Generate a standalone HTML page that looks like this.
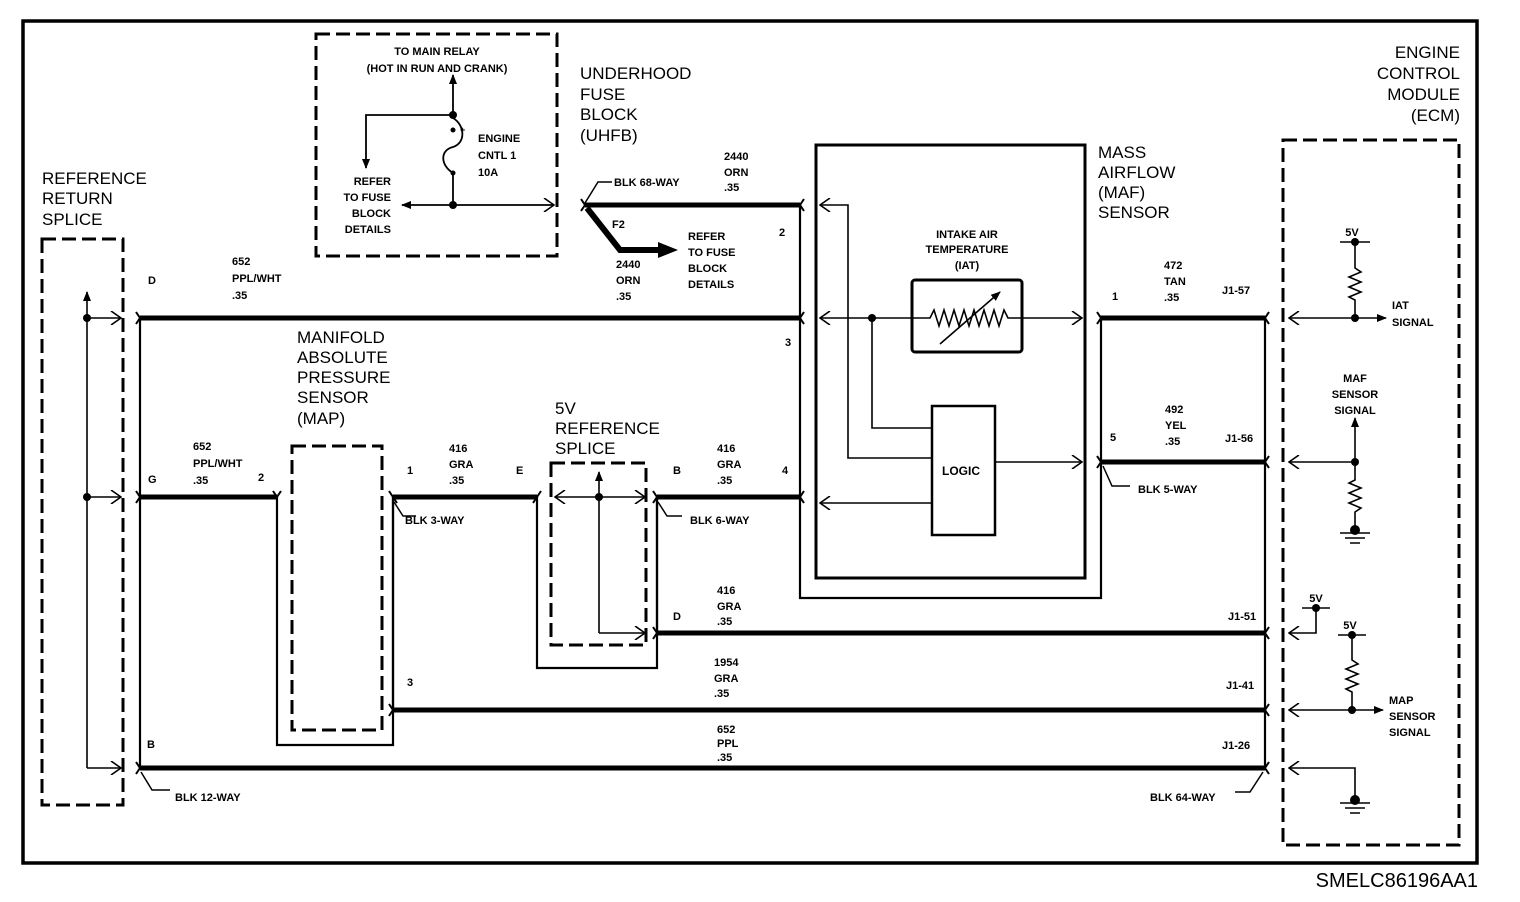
<!DOCTYPE html>
<html><head><meta charset="utf-8"><style>
html,body{margin:0;padding:0;background:#fff}
svg{display:block}
text{font-family:"Liberation Sans",Arial,sans-serif;fill:#000}
.s{font-size:11px;font-weight:bold}
.t{font-size:17px}
</style></head><body>
<svg width="1520" height="902" viewBox="0 0 1520 902" xmlns="http://www.w3.org/2000/svg">
<defs>
<marker id="fa" viewBox="0 0 10 10" refX="9" refY="5" markerWidth="10" markerHeight="10" markerUnits="userSpaceOnUse" orient="auto"><path d="M0,1 L10,5 L0,9 Z" fill="#000"/></marker>
<marker id="oa" viewBox="0 0 12 14" refX="11" refY="7" markerWidth="12" markerHeight="14" markerUnits="userSpaceOnUse" orient="auto"><path d="M1,0 L11,7 L1,14" fill="none" stroke="#000" stroke-width="1.6"/></marker>
</defs>
<g fill="none" stroke="#000">
<rect x="23" y="21" width="1454" height="842" stroke-width="3.5"/>
<g stroke-width="3" stroke-dasharray="14,6">
<rect x="42" y="239" width="81" height="566"/>
<rect x="316" y="34" width="241" height="222"/>
<rect x="292" y="446" width="90" height="284"/>
<rect x="551" y="463" width="95" height="182"/>
<rect x="1283" y="140" width="176" height="705"/>
</g>
<g stroke-width="1.6">
<line x1="87" y1="768" x2="87" y2="292" marker-end="url(#fa)"/>
<line x1="87" y1="318" x2="121" y2="318" marker-end="url(#oa)"/>
<line x1="87" y1="497" x2="121" y2="497" marker-end="url(#oa)"/>
<line x1="87" y1="768" x2="121" y2="768" marker-end="url(#oa)"/>
</g>
<g stroke-width="5">
<line x1="140" y1="318" x2="800" y2="318"/>
<line x1="140" y1="497" x2="277" y2="497"/>
<line x1="393" y1="497" x2="537" y2="497"/>
<line x1="657" y1="497" x2="800" y2="497"/>
<line x1="657" y1="633" x2="1265" y2="633"/>
<line x1="393" y1="710" x2="1265" y2="710"/>
<line x1="140" y1="768" x2="1265" y2="768"/>
<line x1="585" y1="205" x2="800" y2="205"/>
<line x1="1100" y1="318" x2="1265" y2="318"/>
<line x1="1100" y1="462" x2="1265" y2="462"/>
<polyline points="587,208 620,250 660,250" stroke-width="6"/>
</g>
<path d="M658,242 L678,250 L658,258 Z" fill="#000" stroke="none"/>
<g stroke-width="2.2">
<line x1="140" y1="318" x2="140" y2="768"/>
<polyline points="277,497 277,745 393,745 393,497"/>
<line x1="393" y1="497" x2="393" y2="710"/>
<polyline points="537,497 537,668 657,668 657,497"/>
<line x1="657" y1="497" x2="657" y2="633"/>
<polyline points="800,205 800,598 1101,598 1101,318"/>
<line x1="1265" y1="318" x2="1265" y2="768"/>
<rect x="816" y="145" width="269" height="433" stroke-width="3"/>
<rect x="912" y="280" width="110" height="72" rx="3" stroke-width="3"/>
<rect x="932" y="406" width="63" height="129" stroke-width="2.5"/>
</g>
<g stroke-width="2">
<path d="M136,312 L140,318 L136,324 M136,491 L140,497 L136,503 M136,762 L140,768 L136,774"/>
<path d="M273,491 L277,497 L281,491 M389,491 L393,497 L397,503 M389,704 L393,710 L389,716"/>
<path d="M533,503 L537,497 L541,491 M653,491 L657,497 L653,503 M653,627 L657,633 L653,639"/>
<path d="M804,199 L800,205 L804,211 M804,312 L800,318 L804,324 M804,491 L800,497 L804,503"/>
<path d="M1097,312 L1101,318 L1097,324 M1097,456 L1101,462 L1097,468"/>
<path d="M1269,312 L1265,318 L1269,324 M1269,456 L1265,462 L1269,468 M1269,627 L1265,633 L1269,639 M1269,704 L1265,710 L1269,716 M1269,762 L1265,768 L1269,774"/>
<path d="M581,199 L585,205 L581,211"/>
</g>
<g stroke-width="1.5">
<polyline points="141,772 152,790 170,790"/>
<polyline points="394,502 403,516 416,516"/>
<polyline points="658,502 667,516 682,516"/>
<polyline points="1103,466 1112,486 1130,486"/>
<polyline points="1263,772 1250,792 1235,792"/>
<polyline points="585,203 598,182 612,182"/>
</g>
<g stroke-width="1.6">
<line x1="599" y1="497" x2="555" y2="497" marker-end="url(#oa)"/>
<line x1="599" y1="497" x2="645" y2="497" marker-end="url(#oa)"/>
<line x1="599" y1="633" x2="599" y2="472" marker-end="url(#fa)"/>
<line x1="599" y1="633" x2="645" y2="633" marker-end="url(#oa)"/>
</g>
<g stroke-width="1.8">
<line x1="453" y1="205" x2="402" y2="205" marker-end="url(#fa)"/>
<line x1="453" y1="205" x2="554" y2="205" marker-end="url(#oa)"/>
<line x1="453" y1="205" x2="453" y2="173"/>
<path d="M453,173 C440,165 440,150 453,147 C466,143 465,125 453,118"/>
<line x1="453" y1="118" x2="453" y2="75" marker-end="url(#fa)"/>
<polyline points="453,115 366,115 366,168" marker-end="url(#fa)"/>
</g>
<g stroke-width="1.6">
<line x1="872" y1="318" x2="820" y2="318" marker-end="url(#oa)"/>
<line x1="872" y1="318" x2="912" y2="318"/>
<line x1="1022" y1="318" x2="1082" y2="318" marker-end="url(#oa)"/>
<path d="M912,318 L930,318 L934,310 L939,326 L944,310 L949,326 L954,310 L959,326 L964,310 L969,326 L974,310 L979,326 L984,310 L989,326 L994,310 L999,326 L1004,310 L1008,318 L1022,318"/>
<line x1="940" y1="344" x2="1000" y2="292" marker-end="url(#fa)"/>
<polyline points="872,318 872,428 932,428"/>
<polyline points="932,458 848,458 848,205 820,205" marker-end="url(#oa)"/>
<line x1="932" y1="503" x2="820" y2="503" marker-end="url(#oa)"/>
<line x1="995" y1="462" x2="1082" y2="462" marker-end="url(#oa)"/>
</g>
<g stroke-width="1.6">
<line x1="1355" y1="318" x2="1289" y2="318" marker-end="url(#oa)"/>
<line x1="1355" y1="318" x2="1386" y2="318" marker-end="url(#fa)"/>
<path d="M1355,318 L1355,300 L1349,297 L1361,292 L1349,287 L1361,282 L1349,277 L1361,272 L1355,268 L1355,242 M1340,242 L1370,242"/>
<line x1="1355" y1="462" x2="1289" y2="462" marker-end="url(#oa)"/>
<line x1="1355" y1="462" x2="1355" y2="418" marker-end="url(#fa)"/>
<path d="M1355,462 L1355,480 L1349,483 L1361,488 L1349,493 L1361,498 L1349,503 L1361,508 L1355,512 L1355,530 M1340,533 L1370,533 M1345,538 L1365,538 M1350,543 L1360,543"/>
<polyline points="1316,608 1316,633 1289,633" marker-end="url(#oa)"/>
<line x1="1302" y1="608" x2="1330" y2="608"/>
<line x1="1352" y1="710" x2="1289" y2="710" marker-end="url(#oa)"/>
<line x1="1352" y1="710" x2="1383" y2="710" marker-end="url(#fa)"/>
<path d="M1352,710 L1352,692 L1346,689 L1358,684 L1346,679 L1358,674 L1346,669 L1358,664 L1352,660 L1352,635 M1338,635 L1366,635"/>
<polyline points="1355,800 1355,768 1289,768" marker-end="url(#oa)"/>
<path d="M1340,803 L1370,803 M1345,808 L1365,808 M1350,813 L1360,813"/>
</g>
</g>
<g fill="#000">
<circle cx="87" cy="318" r="4"/><circle cx="87" cy="497" r="4"/>
<circle cx="599" cy="497" r="4"/>
<circle cx="453" cy="115" r="4"/><circle cx="453" cy="205" r="4"/>
<circle cx="453" cy="130" r="2.5"/><circle cx="453" cy="173" r="2.5"/>
<circle cx="872" cy="318" r="4"/>
<circle cx="1355" cy="242" r="4"/><circle cx="1355" cy="318" r="4"/>
<circle cx="1355" cy="462" r="4"/><circle cx="1355" cy="530" r="5"/>
<circle cx="1316" cy="608" r="4"/><circle cx="1352" cy="635" r="4"/>
<circle cx="1352" cy="710" r="4"/><circle cx="1355" cy="800" r="5"/>
</g>
<g class="t">
<text x="42" y="184">REFERENCE</text><text x="42" y="204">RETURN</text><text x="42" y="225">SPLICE</text>
<text x="580" y="79">UNDERHOOD</text><text x="580" y="100">FUSE</text><text x="580" y="120">BLOCK</text><text x="580" y="141">(UHFB)</text>
<text x="1098" y="158">MASS</text><text x="1098" y="178">AIRFLOW</text><text x="1098" y="198">(MAF)</text><text x="1098" y="218">SENSOR</text>
<text x="297" y="343">MANIFOLD</text><text x="297" y="363">ABSOLUTE</text><text x="297" y="383">PRESSURE</text><text x="297" y="403">SENSOR</text><text x="297" y="424">(MAP)</text>
<text x="555" y="414">5V</text><text x="555" y="434">REFERENCE</text><text x="555" y="454">SPLICE</text>
<g text-anchor="end"><text x="1460" y="58">ENGINE</text><text x="1460" y="79">CONTROL</text><text x="1460" y="100">MODULE</text><text x="1460" y="121">(ECM)</text></g>
<text x="1478" y="887" text-anchor="end" style="font-size:20px">SMELC86196AA1</text>
</g>
<g class="s">
<g text-anchor="middle">
<text x="437" y="55">TO MAIN RELAY</text><text x="437" y="72">(HOT IN RUN AND CRANK)</text>
<text x="967" y="238">INTAKE AIR</text><text x="967" y="253">TEMPERATURE</text><text x="967" y="269">(IAT)</text>
<text x="1355" y="382">MAF</text><text x="1355" y="398">SENSOR</text><text x="1355" y="414">SIGNAL</text>
<text x="1352" y="236">5V</text><text x="1316" y="602">5V</text><text x="1350" y="629">5V</text>
</g>
<text x="478" y="142">ENGINE</text><text x="478" y="159">CNTL 1</text><text x="478" y="176">10A</text>
<text x="460" y="133" style="font-size:9px">+</text>
<g text-anchor="end"><text x="391" y="185">REFER</text><text x="391" y="201">TO FUSE</text><text x="391" y="217">BLOCK</text><text x="391" y="233">DETAILS</text></g>
<text x="614" y="186">BLK 68-WAY</text>
<text x="724" y="160">2440</text><text x="724" y="176">ORN</text><text x="724" y="191">.35</text>
<text x="612" y="228">F2</text>
<text x="616" y="268">2440</text><text x="616" y="284">ORN</text><text x="616" y="300">.35</text>
<text x="688" y="240">REFER</text><text x="688" y="256">TO FUSE</text><text x="688" y="272">BLOCK</text><text x="688" y="288">DETAILS</text>
<text x="779" y="236">2</text><text x="785" y="346">3</text><text x="782" y="474">4</text>
<text x="148" y="284">D</text>
<text x="232" y="265">652</text><text x="232" y="282">PPL/WHT</text><text x="232" y="299">.35</text>
<text x="148" y="483">G</text>
<text x="193" y="450">652</text><text x="193" y="467">PPL/WHT</text><text x="193" y="484">.35</text>
<text x="258" y="481">2</text><text x="407" y="474">1</text>
<text x="449" y="452">416</text><text x="449" y="468">GRA</text><text x="449" y="484">.35</text>
<text x="516" y="474">E</text>
<text x="673" y="474">B</text>
<text x="717" y="452">416</text><text x="717" y="468">GRA</text><text x="717" y="484">.35</text>
<text x="405" y="524">BLK 3-WAY</text><text x="690" y="524">BLK 6-WAY</text>
<text x="673" y="620">D</text>
<text x="717" y="594">416</text><text x="717" y="610">GRA</text><text x="717" y="625">.35</text>
<text x="407" y="686">3</text>
<text x="714" y="666">1954</text><text x="714" y="682">GRA</text><text x="714" y="697">.35</text>
<text x="147" y="748">B</text>
<text x="717" y="733">652</text><text x="717" y="747">PPL</text><text x="717" y="761">.35</text>
<text x="175" y="801">BLK 12-WAY</text><text x="1150" y="801">BLK 64-WAY</text>
<text x="1112" y="300">1</text>
<text x="1164" y="269">472</text><text x="1164" y="285">TAN</text><text x="1164" y="301">.35</text>
<text x="1222" y="294">J1-57</text>
<text x="1110" y="441">5</text>
<text x="1165" y="413">492</text><text x="1165" y="429">YEL</text><text x="1165" y="445">.35</text>
<text x="1225" y="442">J1-56</text>
<text x="1138" y="493">BLK 5-WAY</text>
<text x="1228" y="620">J1-51</text><text x="1226" y="689">J1-41</text><text x="1222" y="749">J1-26</text>
<text x="1392" y="309">IAT</text><text x="1392" y="326">SIGNAL</text>
<text x="1389" y="704">MAP</text><text x="1389" y="720">SENSOR</text><text x="1389" y="736">SIGNAL</text>
<text x="942" y="475" style="font-size:12px">LOGIC</text>
</g>
</svg>
</body></html>
